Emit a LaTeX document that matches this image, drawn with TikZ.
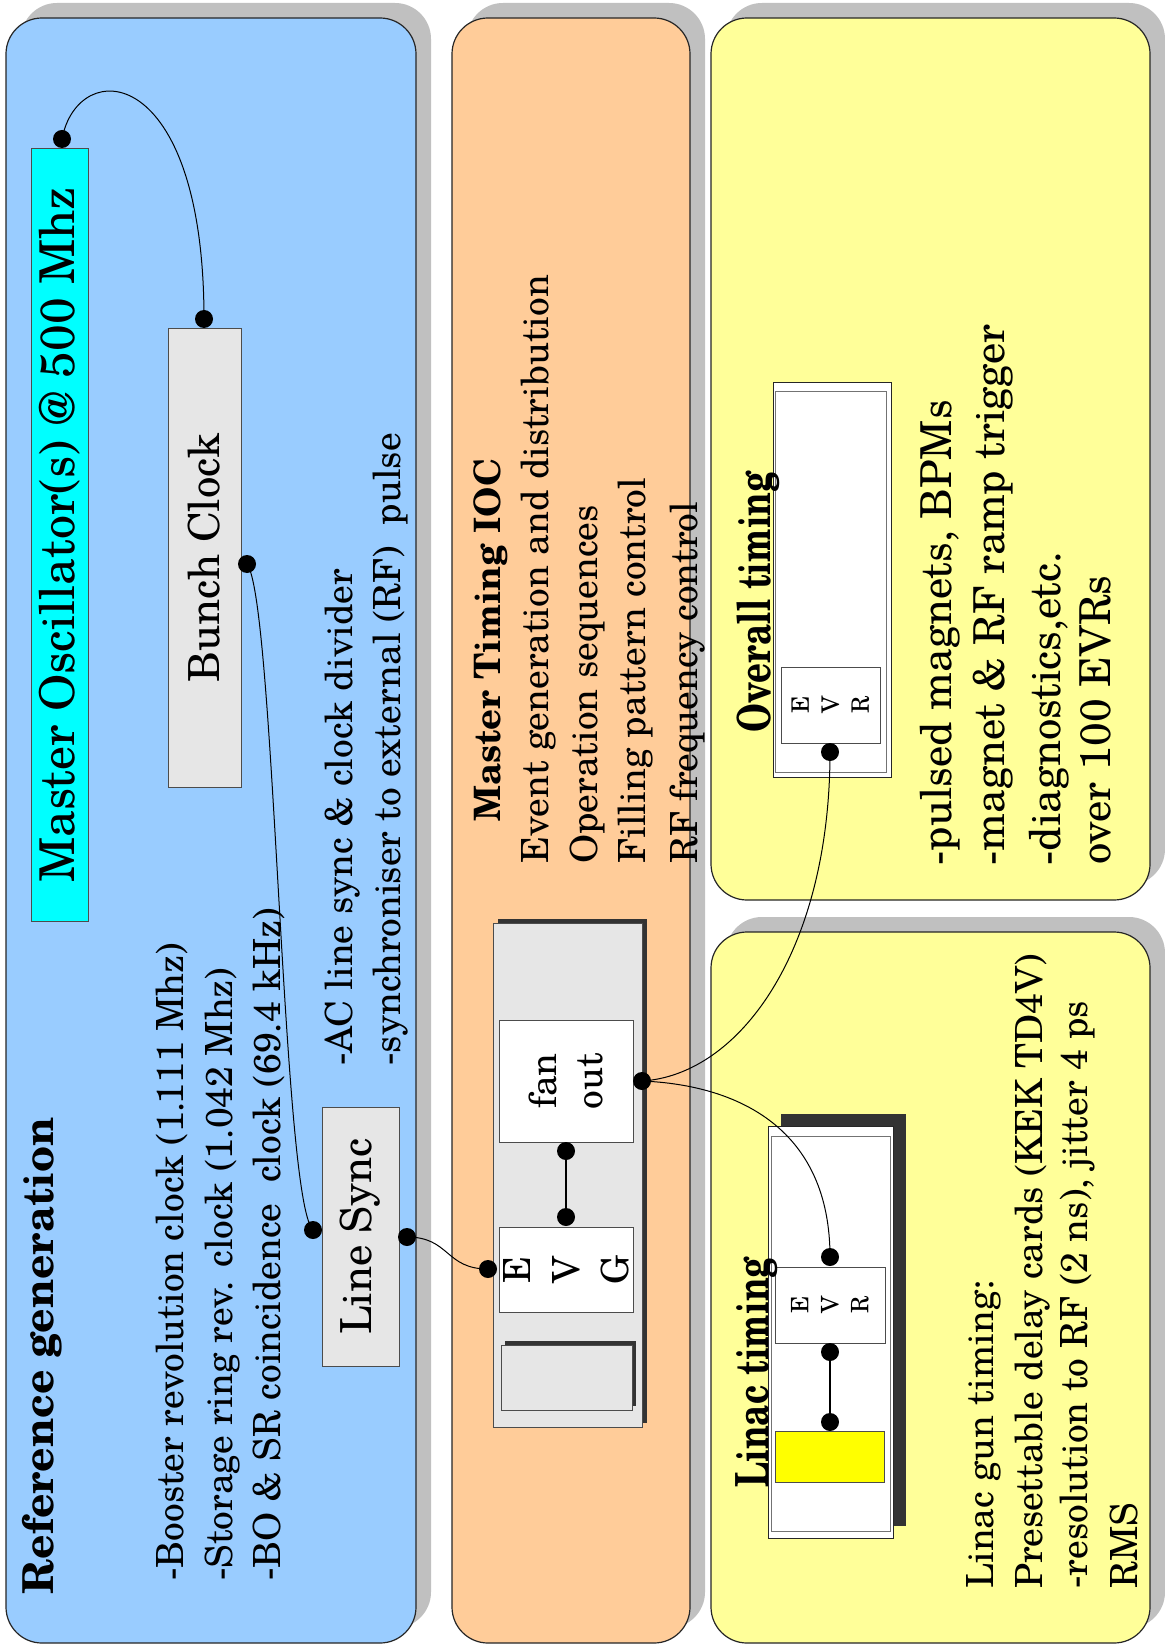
\documentclass[tikz,border=0pt]{standalone}
\usepackage{fontspec}
\setmainfont{TeX Gyre Schola}
\usepackage{graphicx}
\usetikzlibrary{shadows}
\definecolor{pblue}{HTML}{99CCFF}
\definecolor{porange}{HTML}{FFCC99}
\definecolor{pyellow}{HTML}{FFFF99}
\definecolor{mocyan}{HTML}{00FFFF}
\definecolor{greybox}{HTML}{E6E6E6}
\definecolor{shgray}{HTML}{C0C0C0}
\definecolor{darksh}{HTML}{333333}
\definecolor{gunyellow}{HTML}{FFFF00}
\tikzset{
  panel/.style={draw=black!85, line width=0.6pt, rounded corners=18pt, inner sep=0pt,
    drop shadow={shadow xshift=7.5pt, shadow yshift=7.5pt, fill=shgray, opacity=1}},
  blk/.style={draw=black!70, line width=0.5pt, inner sep=0pt},
  rblk/.style={blk, rotate=90},
  jdot/.style={circle, fill=black, inner sep=0pt, minimum size=9pt},
  wire/.style={line width=0.5pt, black},
  link/.style={line width=0.8pt, black},
  txt/.style={rotate=90, anchor=base west, inner sep=0pt, font=\fontsize{18.7}{22.4}\selectfont},
  bigtxt/.style={txt, font=\fontsize{21.3}{25}\selectfont},
  ttl/.style={txt, font=\bfseries\fontsize{18.2}{22}\selectfont},
}
\begin{document}
\begin{tikzpicture}[x=0.5pt,y=-0.5pt]
\useasboundingbox (0,0) rectangle (1164,1652);
\fill[white] (0,0) rectangle (1164,1652);

% panels
\node[panel, fill=pblue, minimum width=205pt, minimum height=812.5pt] (p1) at (211,830.5) {};
\node[panel, fill=porange, minimum width=119pt, minimum height=812.5pt] (p2) at (571,830.5) {};
\node[panel, fill=pyellow, minimum width=219.5pt, minimum height=441pt] (p3) at (930.5,459) {};
\node[panel, fill=pyellow, minimum width=219.5pt, minimum height=355.5pt] (p4) at (930.5,1287.5) {};

% reference generation boxes
\node[rblk, fill=mocyan, minimum width=386pt, minimum height=28.5pt, font=\fontsize{24}{28}\selectfont] (mo) at (59.5,535) {Master Oscillator(s) @ 500 Mhz};
\node[rblk, fill=greybox, minimum width=229pt, minimum height=36.5pt, font=\fontsize{21.4}{25}\selectfont] (bc) at (204.5,558) {Bunch Clock};
\node[rblk, fill=greybox, minimum width=129.5pt, minimum height=38.5pt, font=\fontsize{21.4}{25}\selectfont] (ls) at (360.5,1236.5) {Line Sync};

% master timing crate
\node[blk, fill=greybox, minimum width=74.5pt, minimum height=252pt,
  drop shadow={shadow xshift=2.5pt, shadow yshift=2pt, fill=darksh, opacity=1}] (crate) at (567.5,1175) {};
\node[rblk, fill=white, minimum width=61pt, minimum height=67pt, align=center, font=\fontsize{18.7}{23}\selectfont] (fan) at (566,1081) {fan\\out};
\node[rblk, fill=white, minimum width=42.5pt, minimum height=67pt, align=center, font=\fontsize{18.7}{24.5}\selectfont] (evg) at (566,1269.5) {E\\V\\G};
\node[blk, fill=greybox, minimum width=65.5pt, minimum height=32.5pt,
  drop shadow={shadow xshift=2pt, shadow yshift=2pt, fill=darksh, opacity=1}] (slot) at (566.5,1377.5) {};

% overall timing rack
\node[blk, draw=black!85, fill=white, minimum width=59pt, minimum height=197pt] (ovrack) at (832,580) {};
\node[blk, draw=black!55, fill=white, minimum width=55.5pt, minimum height=190pt] (ovin) at (830.5,582) {};
\node[rblk, fill=white, minimum width=38pt, minimum height=49.5pt, align=center, font=\fontsize{12}{15}\selectfont] (ovevr) at (830.5,705) {E\\V\\R};

% linac rack
\node[blk, draw=black!85, fill=white, minimum width=62.5pt, minimum height=206pt,
  drop shadow={shadow xshift=6.25pt, shadow yshift=6pt, fill=darksh, opacity=1}] (lirack) at (830.5,1332) {};
\node[blk, draw=black!55, fill=white, minimum width=59.5pt, minimum height=197.5pt] (liin) at (830.5,1333.5) {};
\node[rblk, fill=white, minimum width=38pt, minimum height=55pt, align=center, font=\fontsize{12}{15}\selectfont] (lievr) at (830,1305) {E\\V\\R};
\node[blk, fill=gunyellow, minimum width=54.5pt, minimum height=25.5pt] (gun) at (829.5,1456.5) {};

% dots
\node[jdot] (dmo) at (62,139) {};
\node[jdot] (dbct) at (204,319) {};
\node[jdot] (dbcr) at (247,564) {};
\node[jdot] (dlsl) at (313,1230) {};
\node[jdot] (dlsr) at (407,1237) {};
\node[jdot] (devgl) at (488,1269) {};
\node[jdot] (devgt) at (566,1217) {};
\node[jdot] (dfanb) at (566,1151) {};
\node[jdot] (dfanr) at (642,1081) {};
\node[jdot] (dov) at (830,752) {};
\node[jdot] (dlit) at (830,1257) {};
\node[jdot] (dlib) at (830,1352) {};
\node[jdot] (dgun) at (830,1422) {};

% connectors
\draw[wire] (dmo.center) .. controls +(16,-84) and +(0,-257) .. (dbct.center);
\draw[wire] (dbcr.center) .. controls +(28,36) and +(-31,-30) .. (dlsl.center);
\draw[wire] (dlsr.center) .. controls +(43,0) and +(-43,0) .. (devgl.center);
\draw[wire] (dfanr.center) .. controls +(98,-6) and +(0,198) .. (dov.center);
\draw[wire] (dfanr.center) .. controls +(98,4) and +(0,-127) .. (dlit.center);
\draw[link] (dfanb.center) -- (devgt.center);
\draw[link] (dlib.center) -- (dgun.center);

% texts: reference generation
\node[txt, font=\bfseries\fontsize{21.3}{25}\selectfont] (tref) at (53,1595) {Reference generation};
\node[txt] (tb1) at (183,1581) {-Booster revolution clock (1.111 Mhz)};
\node[txt] (tb2) at (232,1581) {-Storage ring rev. clock (1.042 Mhz)};
\node[txt] (tb3) at (280,1581) {-BO \& SR coincidence\ \ clock (69.4 kHz)};
\node[txt] (tac1) at (352,1066) {-AC line sync \& clock divider};
\node[txt] (tac2) at (400,1066) {-synchroniser to external (RF)\ \ pulse};

% texts: master timing IOC
\node[ttl] (tmt) at (500,822) {Master Timing IOC};
\node[txt] (tm1) at (548,864) {Event generation and distribution};
\node[txt] (tm2) at (597,864) {Operation sequences};
\node[txt] (tm3) at (645,864) {Filling pattern control};
\node[txt] (tm4) at (697,864) {RF frequency control};

% texts: overall timing
\node[txt, font=\bfseries\fontsize{22.8}{26}\selectfont] (tov) at (770,733) {\scalebox{0.76}[1]{Overall timing}};
\node[bigtxt] (to1) at (951,866) {-pulsed magnets, BPMs};
\node[bigtxt] (to2) at (1004,866) {-magnet \& RF ramp trigger};
\node[bigtxt] (to3) at (1060,866) {-diagnostics,etc.};
\node[bigtxt] (to4) at (1110,865) {over 100 EVRs};

% texts: linac timing
\node[txt, font=\bfseries\fontsize{22.8}{26}\selectfont] (tli) at (768,1488) {\scalebox{0.76}[1]{Linac timing}};
\node[txt] (tl1) at (993,1589) {Linac gun timing:};
\node[txt] (tl2) at (1042,1589) {Presettable delay cards (KEK TD4V)};
\node[txt] (tl3) at (1087,1589) {-resolution to RF (2 ns), jitter 4 ps};
\node[txt] (tl4) at (1137,1589) {RMS};
\end{tikzpicture}
\end{document}
